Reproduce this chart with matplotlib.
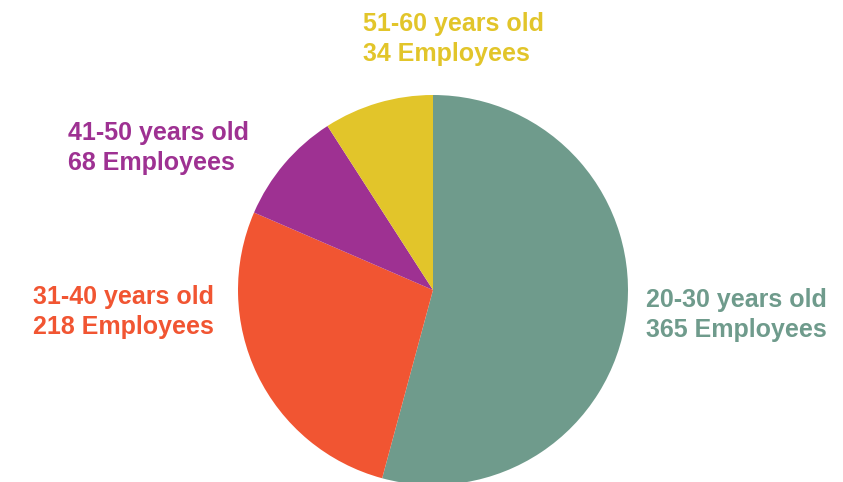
import matplotlib
matplotlib.use("Agg")
import matplotlib.pyplot as plt

# Data (age groups, counts shown in labels, slice shares)
groups = ["20-30 years old", "31-40 years old", "41-50 years old", "51-60 years old"]
employees = [365, 218, 68, 34]
slice_share = [54.2, 27.3, 9.4, 9.1]
colors = ["#6F9B8C", "#F15532", "#9E3192", "#E2C52A"]

W, H = 843, 482
fig = plt.figure(figsize=(W / 100, H / 100), dpi=100)
ax = fig.add_axes([0, 0, 1, 1])

cx, cy, r = 433, 290, 195
ax.pie(slice_share, colors=colors, startangle=90, counterclock=False,
       center=(cx, H - cy), radius=r, wedgeprops=dict(linewidth=0))
ax.set_xlim(0, W)
ax.set_ylim(0, H)
ax.set_aspect("auto")
ax.axis("off")

# label positions (left x, vertical centre y in pixels from top)
label_pos = [(646, 315), (33, 312), (68, 148), (363, 39)]
for g, n, c, (x, y) in zip(groups, employees, colors, label_pos):
    ax.text(x, H - y, f"{g}\n{n} Employees", color=c, fontsize=18,
            fontweight="bold", family=["Liberation Sans", "DejaVu Sans"],
            ha="left", va="center", linespacing=1.28)

fig.savefig("out.png", dpi=100)
